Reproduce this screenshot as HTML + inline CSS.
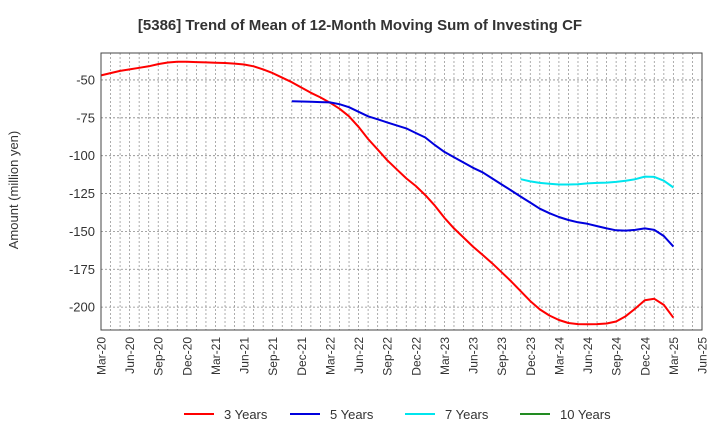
<!DOCTYPE html>
<html><head><meta charset="utf-8"><style>
body{margin:0;background:#fff;}
svg{display:block;font-family:"Liberation Sans",Arial,sans-serif;}
</style></head><body>
<svg id="chart" width="720" height="440" viewBox="0 0 720 440">
<text x="360" y="30" text-anchor="middle" font-size="15" font-weight="bold" fill="#333">[5386]  Trend of Mean of 12-Month Moving Sum of Investing CF</text>
<text transform="translate(18,190) rotate(-90)" text-anchor="middle" font-size="13" fill="#333">Amount (million yen)</text>
<g id="grid"></g>
<g id="yticks"></g>
<g id="xticks"></g>
<g id="series"></g>
<rect x="101" y="53" width="601" height="277" fill="none" stroke="#444" stroke-width="1"/>
<g>
<g><line x1="184" y1="414" x2="214" y2="414" stroke="#ff0000" stroke-width="2"/><text x="224" y="419" font-size="13" fill="#333">3 Years</text></g>
<g><line x1="290" y1="414" x2="320" y2="414" stroke="#0000dd" stroke-width="2"/><text x="330" y="419" font-size="13" fill="#333">5 Years</text></g>
<g><line x1="405" y1="414" x2="435" y2="414" stroke="#00e5ee" stroke-width="2"/><text x="445" y="419" font-size="13" fill="#333">7 Years</text></g>
<g><line x1="520" y1="414" x2="550" y2="414" stroke="#228b22" stroke-width="2"/><text x="560" y="419" font-size="13" fill="#333">10 Years</text></g>
</g>
</svg>
<script>
const xLabels = ["Mar-20","Jun-20","Sep-20","Dec-20","Mar-21","Jun-21","Sep-21","Dec-21","Mar-22","Jun-22","Sep-22","Dec-22","Mar-23","Jun-23","Sep-23","Dec-23","Mar-24","Jun-24","Sep-24","Dec-24","Mar-25","Jun-25"];
const yTicks = [-50,-75,-100,-125,-150,-175,-200];
const red3 = [-47,-45.5,-44,-43,-42,-41,-39.5,-38.5,-38,-38,-38.2,-38.4,-38.6,-38.8,-39.2,-39.8,-41,-43,-45.5,-48.5,-51.5,-55,-58.5,-61.5,-65,-69,-74,-81,-89,-96,-103,-109,-115,-120,-126,-133,-141,-148,-154,-160,-165.5,-171,-177,-183,-189.5,-196,-201.5,-205.5,-208.5,-210.5,-211.2,-211.3,-211.2,-210.8,-209.5,-206,-201,-195.5,-194.5,-198.5,-207];
const blue5Start = 20;
const blue5 = [-64,-64.2,-64.4,-64.6,-64.8,-66,-68,-71,-74,-76,-78,-80,-82,-85,-88,-93,-97.5,-101,-104.5,-108,-111,-115,-119,-123,-127,-131,-135,-138,-140.5,-142.5,-144,-145,-146.5,-148,-149.3,-149.5,-149,-148,-149,-153,-160];
const cyan7Start = 44;
const cyan7 = [-115.5,-117,-118,-118.5,-119,-119,-118.8,-118.3,-118,-117.8,-117.3,-116.5,-115.5,-113.8,-114,-116.5,-121];
const green10 = [];

const X0=101, X1=702, Y0=53, Y1=330, NM=63;
const yMax=-32.2, yMin=-215.1;
const xs = i => X0 + (X1-X0)*i/NM;
const ys = v => Y0 + (yMax - v)/(yMax - yMin)*(Y1-Y0);
const NS="http://www.w3.org/2000/svg";
const grid=document.getElementById('grid'), yt=document.getElementById('yticks'), xt=document.getElementById('xticks'), ser=document.getElementById('series');
for(let m=1;m<NM;m++){
  const l=document.createElementNS(NS,'line');
  
  
  l.setAttribute('x1',xs(m));l.setAttribute('x2',xs(m));l.setAttribute('y1',Y0);l.setAttribute('y2',Y1);
  l.setAttribute('stroke','#999');l.setAttribute('stroke-dasharray','2,2');l.setAttribute('stroke-width','0.8');
  grid.appendChild(l);
}
yTicks.forEach(v=>{
  const l=document.createElementNS(NS,'line');
  
  
  l.setAttribute('x1',X0);l.setAttribute('x2',X1);l.setAttribute('y1',ys(v));l.setAttribute('y2',ys(v));
  l.setAttribute('stroke','#888');l.setAttribute('stroke-dasharray','2,2');l.setAttribute('stroke-width','0.8');
  grid.appendChild(l);
  const t=document.createElementNS(NS,'text');
  
  
  t.setAttribute('x',X0-6);t.setAttribute('y',ys(v)+4.5);t.setAttribute('text-anchor','end');
  t.setAttribute('font-size','13');t.setAttribute('fill','#333');t.textContent=v;
  yt.appendChild(t);
});
xLabels.forEach((s,i)=>{
  const x=xs(i*3);
  const t=document.createElementNS(NS,'text');
  
  
  t.setAttribute('transform','translate('+(x+4.5)+',337) rotate(-90)');
  t.setAttribute('text-anchor','end');t.setAttribute('font-size','12');t.setAttribute('fill','#333');
  t.textContent=s;xt.appendChild(t);
});
function drawLine(vals,start,color,name){
  if(!vals.length) return;
  const p=document.createElementNS(NS,'polyline');
  
  
  p.setAttribute('points',vals.map((v,i)=>xs(start+i).toFixed(1)+','+ys(v).toFixed(1)).join(' '));
  p.setAttribute('fill','none');p.setAttribute('stroke',color);p.setAttribute('stroke-width','2');p.setAttribute('stroke-linejoin','round');
  ser.appendChild(p);
}
drawLine(red3,0,'#ff0000','line-3-years');
drawLine(blue5,blue5Start,'#0000dd','line-5-years');
drawLine(cyan7,cyan7Start,'#00e5ee','line-7-years');
drawLine(green10,0,'#228b22','line-10-years');
</script>
</body></html>
